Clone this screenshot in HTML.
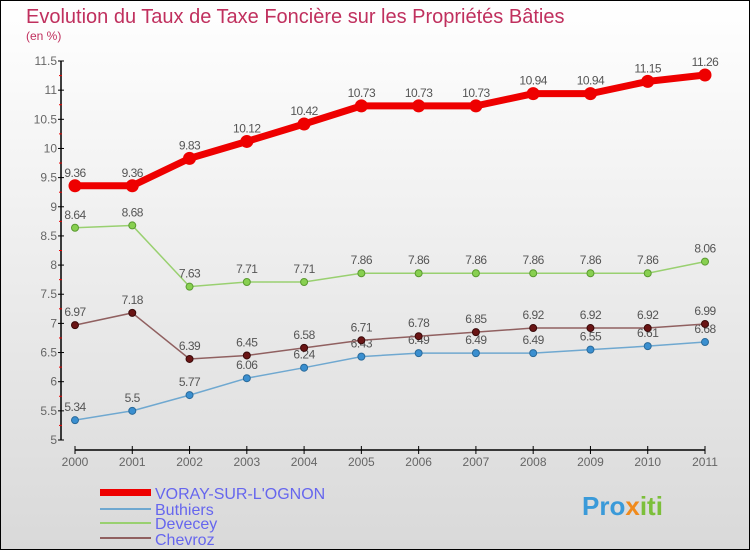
<!DOCTYPE html>
<html><head><meta charset="utf-8"><style>
body{margin:0;}
svg{display:block;font-family:"Liberation Sans","DejaVu Sans",sans-serif;}
</style></head><body>
<svg id="c" width="750" height="550" viewBox="0 0 750 550">
<defs><linearGradient id="bg" x1="0" y1="0" x2="0" y2="1"><stop offset="0" stop-color="#ffffff"/><stop offset="1" stop-color="#d9d9d9"/></linearGradient></defs>
<rect x="0.5" y="0.5" width="749" height="549" fill="url(#bg)" stroke="#000"/>
<text x="26" y="23" font-size="20" fill="#c0305e">Evolution du Taux de Taxe Foncière sur les Propriétés Bâties</text>
<text x="26" y="40" font-size="12" fill="#c0305e">(en %)</text>
<g id="axes"></g><g id="series"></g>
<g>
<rect x="100" y="489" width="51" height="7" fill="#e00"/>
<text x="155" y="499" font-size="16" fill="#6666ee">VORAY-SUR-L'OGNON</text>
<line x1="100" y1="509" x2="151" y2="509" stroke="#6fa8d0" stroke-width="2"/>
<text x="155" y="515" font-size="16" fill="#6666ee">Buthiers</text>
<line x1="100" y1="523" x2="151" y2="523" stroke="#99d070" stroke-width="2"/>
<text x="155" y="529" font-size="16" fill="#6666ee">Devecey</text>
<line x1="100" y1="538" x2="151" y2="538" stroke="#906060" stroke-width="2"/>
<text x="155" y="545" font-size="16" fill="#6666ee">Chevroz</text>
</g>
<text x="582" y="515" font-size="26" font-weight="bold" fill="#3a9ad9">Pro<tspan fill="#f08a1c">x</tspan><tspan fill="#7cbf3a">iti</tspan></text>
</svg>
<script>
const years=[2000,2001,2002,2003,2004,2005,2006,2007,2008,2009,2010,2011];
const voray=[9.36,9.36,9.83,10.12,10.42,10.73,10.73,10.73,10.94,10.94,11.15,11.26];
const buthiers=[5.34,5.5,5.77,6.06,6.24,6.43,6.49,6.49,6.49,6.55,6.61,6.68];
const devecey=[8.64,8.68,7.63,7.71,7.71,7.86,7.86,7.86,7.86,7.86,7.86,8.06];
const chevroz=[6.97,7.18,6.39,6.45,6.58,6.71,6.78,6.85,6.92,6.92,6.92,6.99];
const yTicks=[5,5.5,6,6.5,7,7.5,8,8.5,9,9.5,10,10.5,11,11.5];
const NS="http://www.w3.org/2000/svg";
const X=i=>75+i*(630/11);
const Y=v=>440-(v-5)*(379/6.5);
function mk(t,a,p){const e=document.createElementNS(NS,t);for(const k in a)e.setAttribute(k,a[k]);p.appendChild(e);return e;}
const ax=document.getElementById('axes');
let e=mk('line',{x1:61,y1:61,x2:61,y2:440,stroke:'#000','stroke-width':1.5},ax);

e=mk('line',{x1:75,y1:450,x2:705,y2:450,stroke:'#000','stroke-width':1.5},ax);

yTicks.forEach(v=>{
 mk('line',{x1:58,y1:Y(v),x2:64,y2:Y(v),stroke:'#000'},ax);
 if(v<11.5)mk('line',{x1:59,y1:Y(v+0.25),x2:62,y2:Y(v+0.25),stroke:'#e00'},ax);
 const t=mk('text',{x:57,y:Y(v)+4,'text-anchor':'end','font-size':12,fill:'#666'},ax);t.textContent=v;
 
});
years.forEach((y,i)=>{
 mk('line',{x1:X(i),y1:446,x2:X(i),y2:454,stroke:'#000'},ax);
 const t=mk('text',{x:X(i),y:466,'text-anchor':'middle','font-size':12,fill:'#666'},ax);t.textContent=y;
 
});
const sg=document.getElementById('series');
function draw(vals,name,color,lw,r,fill,stroke){
 const g=mk('g',{},sg);
 
 mk('polyline',{points:vals.map((v,i)=>X(i)+','+Y(v)).join(' '),fill:'none',stroke:color,'stroke-width':lw},g);
 vals.forEach((v,i)=>{
  const c=mk('circle',{cx:X(i),cy:Y(v),r:r,fill:fill,stroke:stroke,'stroke-width':1},g);
  
  const t=mk('text',{x:X(i),y:Y(v)-9,'text-anchor':'middle','font-size':12,fill:'#555','letter-spacing':'-0.5'},g);t.textContent=v;
  
 });
}
draw(buthiers,'buthiers','#6fa8d0',1.5,3.5,'#3a8fd0','#2a6a9a');
draw(devecey,'devecey','#99d070',1.5,3.5,'#88d050','#5a9a30');
draw(chevroz,'chevroz','#906060',1.5,3.5,'#6a1515','#3a0a0a');
draw(voray,'voray','#ee0000',7,6,'#ee0000','#ee0000');
</script>
</body></html>
